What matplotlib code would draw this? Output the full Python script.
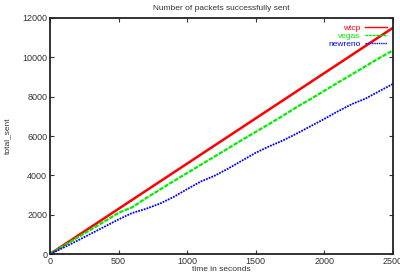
import matplotlib
matplotlib.use("Agg")
import matplotlib.pyplot as plt

# time axis (seconds) and packets sent per protocol
t = [0, 100, 200, 300, 400, 500, 600, 700, 800, 900, 1000, 1100, 1200,
     1300, 1400, 1500, 1600, 1700, 1800, 1900, 2000, 2100, 2200, 2300, 2400, 2500]
wtcp = [0, 460, 920, 1380, 1840, 2300, 2760, 3220, 3680, 4140, 4600, 5060, 5520,
        5980, 6440, 6900, 7360, 7820, 8280, 8740, 9200, 9660, 10120, 10580, 11040, 11500]
vegas = [0, 420, 840, 1250, 1670, 2100, 2380, 2840, 3270, 3700, 4120, 4540, 4960,
         5380, 5800, 6210, 6620, 7040, 7480, 7880, 8300, 8720, 9130, 9550, 9960, 10350]
newreno = [0, 330, 680, 1040, 1400, 1760, 2090, 2300, 2560, 2900, 3300, 3690, 3980,
           4350, 4750, 5150, 5480, 5780, 6130, 6500, 6870, 7260, 7620, 7900, 8280, 8650]

plt.rcParams['font.family'] = ['Liberation Sans', 'DejaVu Sans']

fig = plt.figure(figsize=(4, 2.72), dpi=100)
ax = fig.add_axes([0.125, 0.066, 0.8575, 0.868])

ax.plot(t, wtcp, color="red", lw=1.8, label="wtcp")
ax.plot(t, vegas, color="#00ee00", lw=1.6, ls=(0, (2, 0.6)), label="vegas")
ax.plot(t, newreno, color="blue", lw=1.3, ls=(0, (1, 0.6)), label="newreno")

ax.set_xlim(0, 2500)
ax.set_ylim(0, 12000)
ax.set_xticks([0, 500, 1000, 1500, 2000, 2500])
ax.set_yticks([0, 2000, 4000, 6000, 8000, 10000, 12000])
ax.tick_params(direction="in", top=True, right=True, length=3, width=0.8,
               labelsize=6.5, colors="#333333", pad=2)
for s in ax.spines.values():
    s.set_linewidth(1.3)
    s.set_color("#222222")

ax.set_title("Number of packets successfully sent", fontsize=6, color="#333333", pad=6)
ax.set_xlabel("time in seconds", fontsize=6, color="#333333", labelpad=0)
ax.set_ylabel("total_sent", fontsize=6, color="#333333")
ax.yaxis.set_label_coords(-0.112, 0.5)

leg = ax.legend(loc="upper right", frameon=False, markerfirst=False, fontsize=6,
                labelcolor="linecolor", handlelength=2.6, handletextpad=0.6,
                labelspacing=0.05, borderaxespad=0.3)
for h in leg.get_lines():
    h.set_linewidth(1.0)

fig.savefig("out.png", dpi=100)
